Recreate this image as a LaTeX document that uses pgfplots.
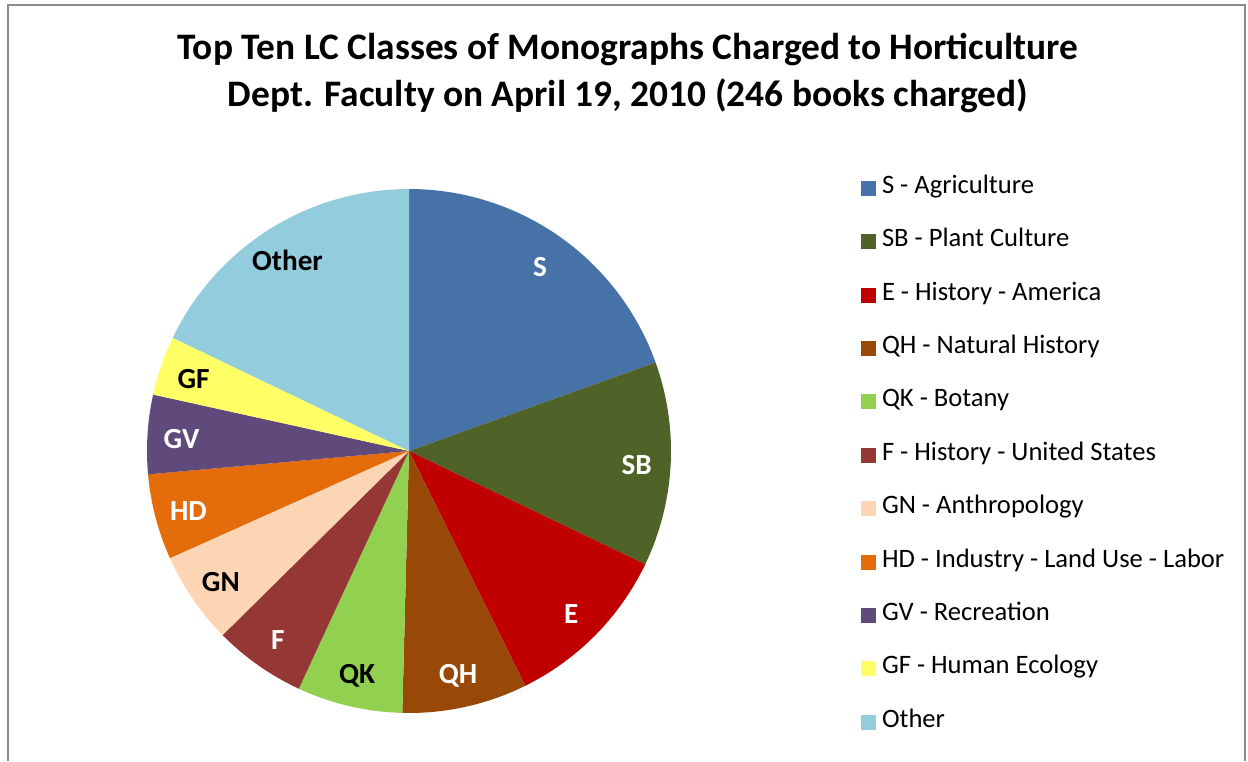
\documentclass[border=0pt]{standalone}
\usepackage{fontspec}
\setmainfont{Carlito}
\usepackage{pgfplots}
\pgfplotsset{compat=1.18}
\definecolor{cS}{HTML}{4672A8}
\definecolor{cSB}{HTML}{4F6228}
\definecolor{cE}{HTML}{C00000}
\definecolor{cQH}{HTML}{984807}
\definecolor{cQK}{HTML}{92D050}
\definecolor{cF}{HTML}{953735}
\definecolor{cGN}{HTML}{FCD5B5}
\definecolor{cHD}{HTML}{E46C0A}
\definecolor{cGV}{HTML}{604A7B}
\definecolor{cGF}{HTML}{FFFF66}
\definecolor{cOther}{HTML}{93CDDD}
% #1 books before this slice, #2 books in slice, #3 colour, #4 label, #5 label colour, #6 legend text
\newcommand\slice[6]{%
  \addplot[fill=#3, draw=none, domain=90-360*(#1+#2)/246:90-360*(#1)/246, samples=80, variable=\t]
    ({cos(\t)},{sin(\t)}) -- (axis cs:0,0) -- cycle;
  \addlegendentry{#6}
  \node[text=#5, font=\bfseries\fontsize{14.6}{16}\selectfont, yshift=-1.2pt]
    at (axis cs:{0.87*cos(90-360*(#1+#2/2)/246)},{0.87*sin(90-360*(#1+#2/2)/246)}) {#4};
}
\begin{document}
\begin{tikzpicture}[x=0.5pt,y=0.5pt]
\useasboundingbox (0,0) rectangle (1248,761);
\draw[color=black!45, line width=0.75pt] (8,0) -- (8,756) -- (1245,756) -- (1245,0);
\node[align=center, font=\bfseries\fontsize{18.7}{23.5}\selectfont] at (628,687.5)
  {Top Ten LC Classes of Monographs Charged to Horticulture\\Dept. Faculty on April 19, 2010 (246 books charged)};
\begin{axis}[
  at={(204.5pt,155pt)}, anchor=center,
  width=262pt, height=262pt, scale only axis,
  xmin=-1, xmax=1, ymin=-1, ymax=1,
  hide axis, clip=false,
  legend cell align=left,
  legend image code/.code={\fill[#1] (0pt,-3.75pt) rectangle (7.5pt,3.75pt);},
  legend style={draw=none, fill=none, at={(1.3626,1.0205)}, anchor=north west,
    inner sep=0pt, outer sep=0pt, row sep=16.7pt, column sep=3pt,
    nodes={inner sep=0pt, text height=7.5pt, text depth=2.5pt, font=\fontsize{13.3}{15}\selectfont}},
]
\slice{0}{48}{cS}{S}{white}{S - Agriculture}
\slice{48}{31}{cSB}{SB}{white}{SB - Plant Culture}
\slice{79}{26}{cE}{E}{white}{E - History - America}
\slice{105}{19}{cQH}{QH}{white}{QH - Natural History}
\slice{124}{16}{cQK}{QK}{black}{QK - Botany}
\slice{140}{14}{cF}{F}{white}{F - History - United States}
\slice{154}{14}{cGN}{GN}{black}{GN - Anthropology}
\slice{168}{13}{cHD}{HD}{white}{HD - Industry - Land Use - Labor}
\slice{181}{12}{cGV}{GV}{white}{GV - Recreation}
\slice{193}{9}{cGF}{GF}{black}{GF - Human Ecology}
\slice{202}{44}{cOther}{Other}{black}{Other}
\end{axis}
\end{tikzpicture}
\end{document}
